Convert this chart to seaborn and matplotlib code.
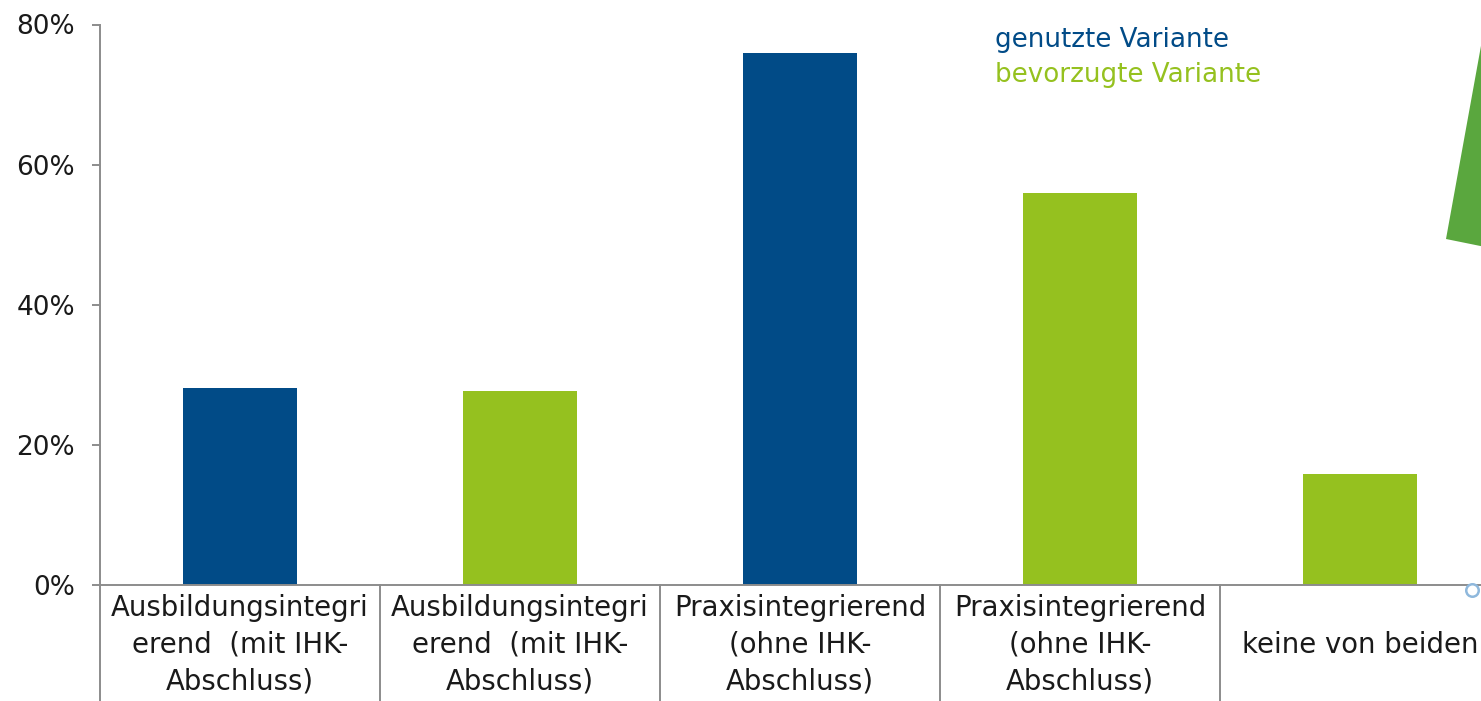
import matplotlib
matplotlib.use("Agg")
import matplotlib.pyplot as plt
import matplotlib.transforms as mtransforms
from matplotlib.lines import Line2D
from matplotlib.patches import Polygon
import seaborn as sns
import pandas as pd

# ---- data ----
positions = [0, 1, 2, 3, 4]
tick_labels = [
    "Ausbildungsintegri\nerend  (mit IHK-\nAbschluss)",
    "Ausbildungsintegri\nerend  (mit IHK-\nAbschluss)",
    "Praxisintegrierend\n(ohne IHK-\nAbschluss)",
    "Praxisintegrierend\n(ohne IHK-\nAbschluss)",
    "keine von beiden",
]
series = ["genutzte Variante", "bevorzugte Variante", "genutzte Variante",
          "bevorzugte Variante", "bevorzugte Variante"]
values = [28.1, 27.7, 75.9, 55.9, 15.8]
series_names = ["genutzte Variante", "bevorzugte Variante"]
series_colors = ["#014b87", "#95c11f"]
y_ticks = [0, 20, 40, 60, 80]

df = pd.DataFrame({"pos": positions, "value": values, "series": series})

sns.set_style("ticks")
plt.rcParams["font.family"] = ["DejaVu Sans"]

W, H = 1481, 701
fig = plt.figure(figsize=(W / 100, H / 100), dpi=100)
ax = fig.add_axes([100 / W, 1 - 585 / H, 1400 / W, (585 - 24.5) / H])

palette = dict(zip(series_names, series_colors))
sns.barplot(data=df, x="pos", y="value", hue="series", palette=palette,
            dodge=False, width=0.41, saturation=1, linewidth=0,
            legend=False, ax=ax)

grey = "#8c8c8c"
ax.set_xlim(-0.5, 4.5)
ax.set_ylim(0, 80)
ax.set_yticks(y_ticks)
ax.set_yticklabels([f"{v}%" for v in y_ticks], fontsize=19, color="#1a1a1a")
ax.set_xticks(positions)
ax.set_xticklabels(tick_labels, fontsize=19.8, color="#1a1a1a", va="center",
                   linespacing=1.38)
ax.tick_params(axis="x", length=0, pad=43)
ax.tick_params(axis="y", length=6, width=1.4, color=grey, pad=12)
ax.set_xlabel("")
ax.set_ylabel("")
for s in ["top", "right"]:
    ax.spines[s].set_visible(False)
for s in ["left", "bottom"]:
    ax.spines[s].set_color(grey)
    ax.spines[s].set_linewidth(1.4)

# separators of the category table below the axis
trans = mtransforms.blended_transform_factory(ax.transData, fig.transFigure)
y0 = 1 - 585 / H
for xp in [-0.5, 0.5, 1.5, 2.5, 3.5]:
    fig.add_artist(Line2D([xp, xp], [0, y0], transform=trans, color=grey,
                          lw=1.4, clip_on=False))

# legend as coloured text
handles = [Line2D([], [], linestyle="none") for _ in series_names]
leg = ax.legend(handles, series_names, loc="upper left",
                bbox_to_anchor=(982 / W, 1 - 14 / H),
                bbox_transform=fig.transFigure, frameon=False,
                handlelength=0, handletextpad=0, borderpad=0,
                labelspacing=0.33, fontsize=18.8, labelcolor=series_colors)

# decoration at right edge (cut-off arrow and marker)
px = lambda x, y: (x / W, 1 - y / H)
fig.add_artist(Polygon([px(1446, 239), px(1498, -48), px(1510, -48), px(1510, 252)],
                       closed=True, transform=fig.transFigure,
                       facecolor="#5aa73e", edgecolor="none"))
fig.add_artist(Line2D([1472 / W], [1 - 590 / H], transform=fig.transFigure,
                      marker="o", markersize=9, markerfacecolor="white",
                      markeredgecolor="#8fb8dc", markeredgewidth=1.8,
                      linestyle="none"))

fig.savefig("out.png", dpi=100)
